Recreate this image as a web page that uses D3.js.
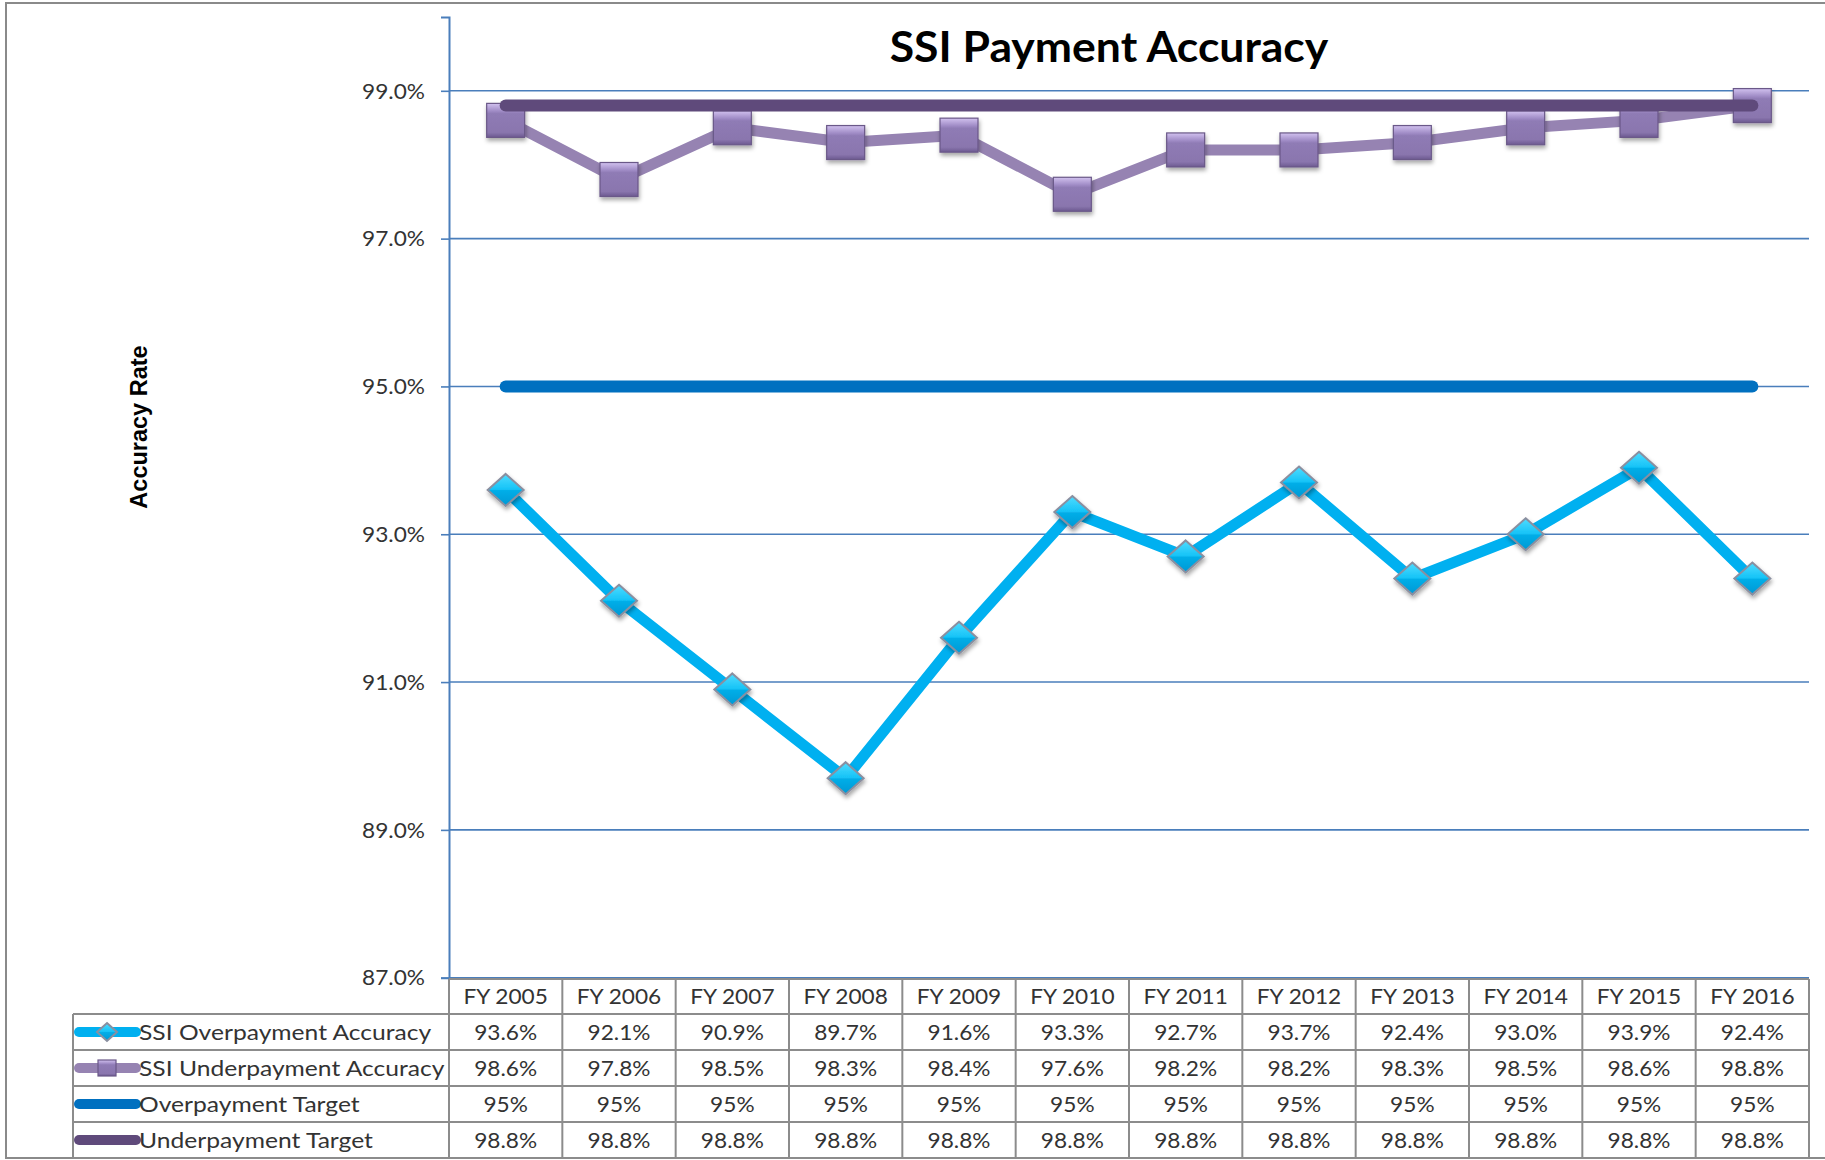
<!DOCTYPE html>
<html>
<head>
<meta charset="utf-8">
<script src="https://cdn.jsdelivr.net/npm/d3@7"></script>
<style>
  body { margin: 0; background: #fff; }
  svg { display: block; }
</style>
</head>
<body>
<div id="chart"></div>
<script>
const categories = ['FY 2005', 'FY 2006', 'FY 2007', 'FY 2008', 'FY 2009', 'FY 2010',
  'FY 2011', 'FY 2012', 'FY 2013', 'FY 2014', 'FY 2015', 'FY 2016'];
const overpayment = [93.6, 92.1, 90.9, 89.7, 91.6, 93.3, 92.7, 93.7, 92.4, 93.0, 93.9, 92.4];
const underpayment = [98.6, 97.8, 98.5, 98.3, 98.4, 97.6, 98.2, 98.2, 98.3, 98.5, 98.6, 98.8];
const overTarget = [95, 95, 95, 95, 95, 95, 95, 95, 95, 95, 95, 95];
const underTarget = [98.8, 98.8, 98.8, 98.8, 98.8, 98.8, 98.8, 98.8, 98.8, 98.8, 98.8, 98.8];
const yTicks = [87, 89, 91, 93, 95, 97, 99];
const seriesNames = ['SSI Overpayment Accuracy', 'SSI Underpayment Accuracy', 'Overpayment Target', 'Underpayment Target'];

const width = 1825, height = 1160;
const FONT = 'Lato, "Noto Sans", sans-serif';
const SX = 1.03; // source image is slightly stretched sideways
const SX_LEGEND = 1.12;

const svg = d3.select('#chart').append('svg')
  .attr('width', width)
  .attr('height', height);

const defs = svg.append('defs');
const shadow = defs.append('filter').attr('id', 'shadow')
  .attr('x', '-40%').attr('y', '-40%').attr('width', '180%').attr('height', '180%');
shadow.append('feDropShadow')
  .attr('dx', 1).attr('dy', 3).attr('stdDeviation', 2)
  .attr('flood-color', '#000').attr('flood-opacity', 0.35);

function gradient(id, stops) {
  const g = defs.append('linearGradient').attr('id', id)
    .attr('x1', 0).attr('y1', 0).attr('x2', 0).attr('y2', 1);
  stops.forEach(s => g.append('stop').attr('offset', s[0]).attr('stop-color', s[1]));
}
gradient('sqGrad', [[0, '#d2c2ef'], [0.22, '#a18dc7'], [0.3, '#8f7bb5'], [0.85, '#8a76ae'], [1, '#6c5990']]);
gradient('dmGrad', [[0, '#4fdcff'], [0.48, '#16c3f7'], [0.52, '#05aee8'], [1, '#0098d4']]);

// frame
svg.append('rect')
  .attr('x', 6).attr('y', 3)
  .attr('width', width + 20).attr('height', 1155)
  .attr('fill', 'none')
  .attr('stroke', '#8a8a8a')
  .attr('stroke-width', 2);

const x = d3.scaleBand()
  .domain(categories)
  .range([449, 1809]);
const cx = d => x(d) + x.bandwidth() / 2;

const y = d3.scaleLinear()
  .domain([87, 100])
  .range([977.7, 16.9]);

// gridlines
svg.append('g')
  .selectAll('line')
  .data(yTicks)
  .join('line')
  .attr('x1', x.range()[0])
  .attr('x2', x.range()[1])
  .attr('y1', d => y(d))
  .attr('y2', d => y(d))
  .attr('stroke', '#4a7ebb')
  .attr('stroke-width', 1.6);

// y axis
const yAxis = svg.append('g')
  .attr('transform', `translate(${x.range()[0]},0)`)
  .call(d3.axisLeft(y).tickValues(yTicks).tickSize(8).tickPadding(0).tickFormat(() => ''));
yAxis.select('.domain').attr('stroke', '#4a7ebb').attr('stroke-width', 2);
yAxis.selectAll('.tick line').attr('stroke', '#4a7ebb').attr('stroke-width', 1.6);

svg.append('g')
  .selectAll('text')
  .data(yTicks)
  .join('text')
  .attr('transform', d => `translate(425,${y(d)}) scale(${SX},1)`)
  .attr('text-anchor', 'end')
  .attr('dy', '0.35em')
  .attr('font-family', FONT)
  .attr('font-size', 22)
  .attr('fill', '#333')
  .text(d => d3.format('.1f')(d) + '%');

// axis title
svg.append('text')
  .attr('transform', 'translate(139,427) rotate(-90)')
  .attr('text-anchor', 'middle')
  .attr('dy', '0.35em')
  .attr('font-family', '"Liberation Sans", Arial, sans-serif')
  .attr('font-weight', 'bold')
  .attr('font-size', 23.5)
  .attr('fill', '#000')
  .text('Accuracy Rate');

// chart title
svg.append('text')
  .attr('transform', `translate(1109,62) scale(1.06,1)`)
  .attr('text-anchor', 'middle')
  .attr('font-family', FONT)
  .attr('font-weight', 'bold')
  .attr('font-size', 42)
  .attr('fill', '#000')
  .text('SSI Payment Accuracy');

const line = d3.line()
  .x((d, i) => cx(categories[i]))
  .y(d => y(d));

function diamond(g, w, h) {
  g.append('path')
    .attr('d', `M0,${-h}L${w},0L0,${h}L${-w},0Z`)
    .attr('fill', 'url(#dmGrad)')
    .attr('stroke', '#8a8fa0')
    .attr('stroke-width', 2);
}
function square(g, w, h) {
  g.append('rect')
    .attr('x', -w / 2).attr('y', -h / 2)
    .attr('width', w).attr('height', h)
    .attr('fill', 'url(#sqGrad)')
    .attr('stroke', '#6a5888')
    .attr('stroke-width', 1.2);
}

// overpayment accuracy
svg.append('path')
  .datum(overpayment)
  .attr('d', line)
  .attr('fill', 'none')
  .attr('stroke', '#00b0f0')
  .attr('stroke-width', 11)
  .attr('stroke-linejoin', 'round');
svg.append('g')
  .selectAll('g')
  .data(overpayment)
  .join('g')
  .attr('transform', (d, i) => `translate(${cx(categories[i])},${y(d)})`)
  .attr('filter', 'url(#shadow)')
  .each(function () { diamond(d3.select(this), 18, 16); });

// underpayment accuracy
svg.append('path')
  .datum(underpayment)
  .attr('d', line)
  .attr('fill', 'none')
  .attr('stroke', '#9683b2')
  .attr('stroke-width', 11)
  .attr('stroke-linejoin', 'round');
svg.append('g')
  .selectAll('g')
  .data(underpayment)
  .join('g')
  .attr('transform', (d, i) => `translate(${cx(categories[i])},${y(d)})`)
  .attr('filter', 'url(#shadow)')
  .each(function () { square(d3.select(this), 38, 34); });

// targets
svg.append('path')
  .datum(overTarget)
  .attr('d', line)
  .attr('fill', 'none')
  .attr('stroke', '#0070c0')
  .attr('stroke-width', 12)
  .attr('stroke-linecap', 'round');
svg.append('path')
  .datum(underTarget)
  .attr('d', line)
  .attr('fill', 'none')
  .attr('stroke', '#5f4a7b')
  .attr('stroke-width', 12)
  .attr('stroke-linecap', 'round');

// data table
const rowTops = [979, 1014, 1050, 1086, 1122, 1158];
const legendLeft = 73;
const table = svg.append('g');
const gridColor = '#8c8c8c';
const cellText = (sel) => sel
  .attr('font-family', FONT)
  .attr('font-size', 22)
  .attr('fill', '#333')
  .attr('dy', '0.35em');

// header labels
table.selectAll('text.hdr')
  .data(categories)
  .join('text')
  .attr('class', 'hdr')
  .attr('transform', d => `translate(${cx(d)},${(rowTops[0] + rowTops[1]) / 2}) scale(${SX},1)`)
  .attr('text-anchor', 'middle')
  .call(cellText)
  .text(d => d);

const rows = [
  { name: seriesNames[0], values: overpayment, fmt: d => d3.format('.1f')(d) + '%', color: '#00b0f0', marker: 'diamond' },
  { name: seriesNames[1], values: underpayment, fmt: d => d3.format('.1f')(d) + '%', color: '#9683b2', marker: 'square' },
  { name: seriesNames[2], values: overTarget, fmt: d => d3.format('.0f')(d) + '%', color: '#0070c0' },
  { name: seriesNames[3], values: underTarget, fmt: d => d3.format('.1f')(d) + '%', color: '#5f4a7b' }
];

rows.forEach((r, ri) => {
  const mid = (rowTops[ri + 1] + rowTops[ri + 2]) / 2;
  table.append('line')
    .attr('x1', 79).attr('x2', 136)
    .attr('y1', mid).attr('y2', mid)
    .attr('stroke', r.color)
    .attr('stroke-width', 10)
    .attr('stroke-linecap', 'round');
  if (r.marker) {
    const mg = table.append('g').attr('transform', `translate(107,${mid})`);
    if (r.marker === 'diamond') diamond(mg, 10, 9);
    else square(mg, 18, 16);
  }
  table.append('text')
    .attr('transform', `translate(139,${mid}) scale(${SX_LEGEND},1)`)
    .call(cellText)
    .text(r.name);
  table.selectAll(null)
    .data(r.values)
    .join('text')
    .attr('transform', (d, i) => `translate(${cx(categories[i])},${mid}) scale(${SX},1)`)
    .attr('text-anchor', 'middle')
    .call(cellText)
    .text(r.fmt);
});

// table grid
const gridG = table.append('g')
  .attr('stroke', gridColor)
  .attr('stroke-width', 2);
rowTops.forEach((t, i) => {
  gridG.append('line')
    .attr('x1', i === 0 ? x.range()[0] : legendLeft)
    .attr('x2', x.range()[1])
    .attr('y1', t).attr('y2', t);
});
gridG.append('line')
  .attr('x1', legendLeft).attr('x2', legendLeft)
  .attr('y1', rowTops[1]).attr('y2', rowTops[5]);
categories.concat(['end']).forEach(c => {
  const xx = c === 'end' ? x.range()[1] : x(c);
  gridG.append('line')
    .attr('x1', xx).attr('x2', xx)
    .attr('y1', rowTops[0]).attr('y2', rowTops[5]);
});
</script>
</body>
</html>
